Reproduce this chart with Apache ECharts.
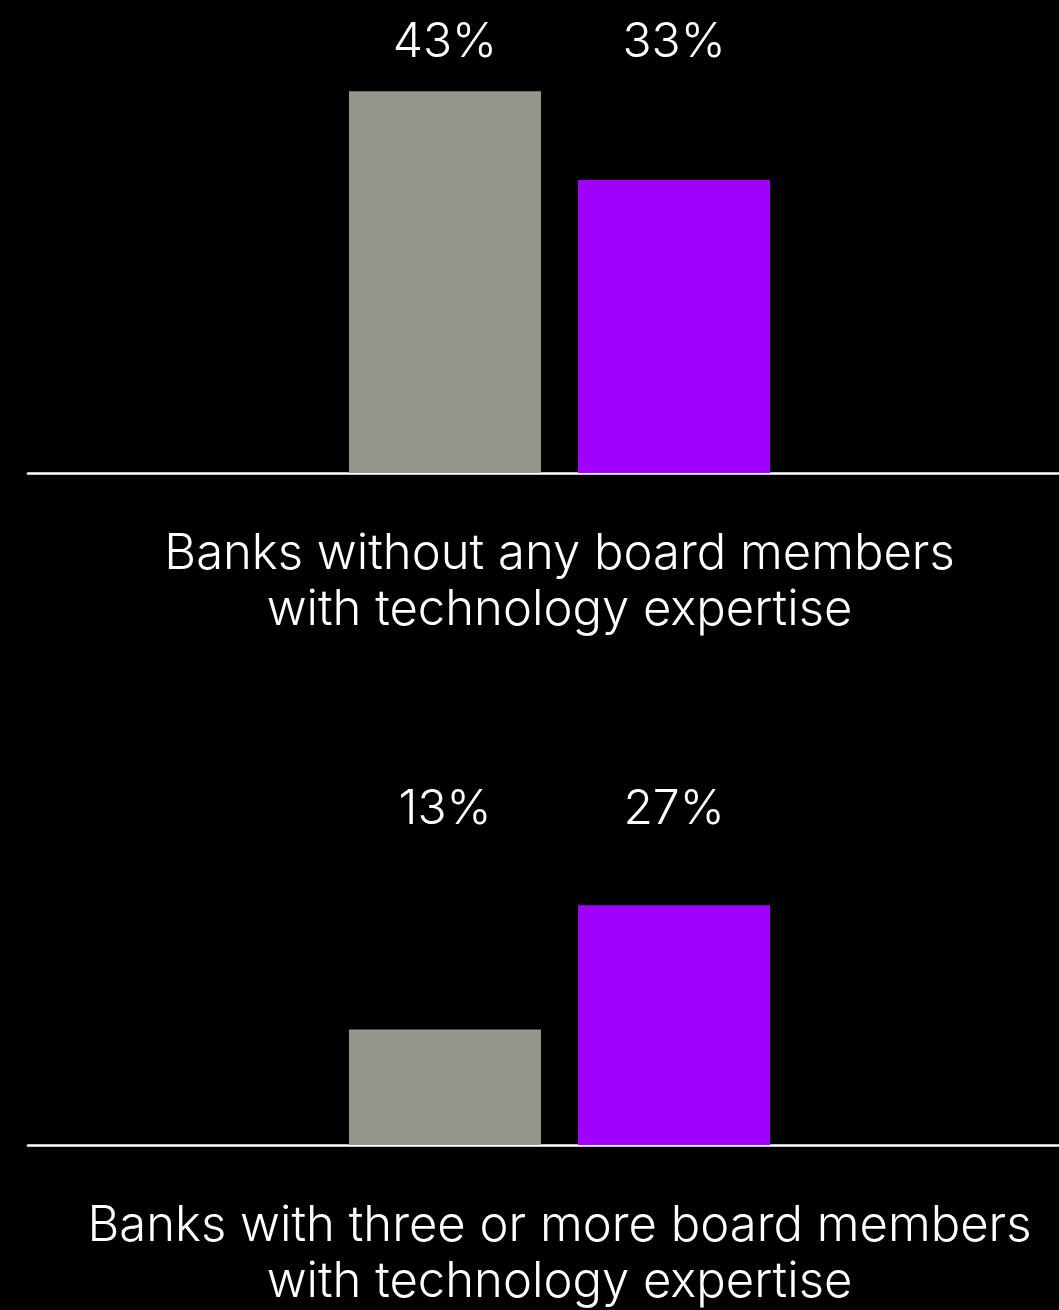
<!DOCTYPE html>
<html>
<head>
<meta charset="utf-8">
<script src="https://cdn.jsdelivr.net/npm/echarts@6/dist/echarts.min.js"></script>
<style>
  html, body { margin: 0; padding: 0; background: #000; }
  #chart { width: 1059px; height: 1310px; }
</style>
</head>
<body>
<div id="chart"></div>
<script>
// Share of banks (%), two board-composition groups
const categories = [
  'Banks without any board members\nwith technology expertise',
  'Banks with three or more board members\nwith technology expertise'
];
const grayValues = [43, 13];
const purpleValues = [33, 27];

// Visual style
const GRAY = '#96968d';
const PURPLE = '#a100ff';
const FONT = 'Inter';

// Panel layout: [top, height] in px, and y max giving the same scale in both
const panels = [
  { top: 70, height: 403 },
  { top: 837, height: 308 }
];
const PX_PER_UNIT = 8.88;

const chart = echarts.init(document.getElementById('chart'));

const grids = panels.map(p => ({
  left: 28, width: 1063, top: p.top, height: p.height,
  outerBoundsMode: 'none', containLabel: false
}));
const xAxes = panels.map((p, i) => ({
  type: 'category',
  gridIndex: i,
  data: [categories[i]],
  axisLine: { show: true, lineStyle: { color: '#ffffff', width: 2.6 } },
  axisTick: { show: false },
  axisLabel: {
    color: '#ffffff', fontFamily: FONT, fontWeight: 300, fontSize: 49,
    lineHeight: 56, margin: 53, interval: 0
  }
}));
const yAxes = panels.map((p, i) => ({
  type: 'value',
  gridIndex: i,
  min: 0,
  max: p.height / PX_PER_UNIT,
  show: false,
  splitLine: { show: false }
}));

const series = [];
panels.forEach((p, i) => {
  const yMax = p.height / PX_PER_UNIT;
  [[grayValues, GRAY, 'g'], [purpleValues, PURPLE, 'p']].forEach(([vals, color, key]) => {
    series.push({
      type: 'bar', xAxisIndex: i, yAxisIndex: i, stack: key + i,
      data: [vals[i]], barWidth: 192, barGap: '19.3%',
      itemStyle: { color: color }, silent: true
    });
    // transparent spacer up to the label row; carries the value label
    series.push({
      type: 'bar', xAxisIndex: i, yAxisIndex: i, stack: key + i,
      data: [yMax - vals[i]], barWidth: 192, barGap: '19.3%',
      itemStyle: { color: 'transparent' }, silent: true,
      label: {
        show: true, position: 'top', distance: 3,
        formatter: () => vals[i] + '%',
        color: '#ffffff', fontFamily: FONT, fontWeight: 300, fontSize: 48
      }
    });
  });
});

chart.setOption({
  backgroundColor: '#000000',
  animation: false,
  grid: grids,
  xAxis: xAxes,
  yAxis: yAxes,
  series: series
});
</script>
</body>
</html>
